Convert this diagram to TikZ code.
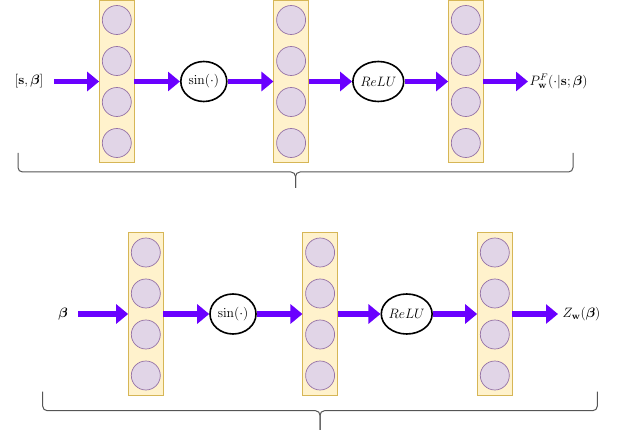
\RequirePackage{fix-cm}
\documentclass[tikz,border=0pt]{standalone}
\usepackage{amsmath,bm}
\usetikzlibrary{arrows.meta,shapes.geometric}
\definecolor{layfill}{HTML}{FFF2CC}
\definecolor{laydraw}{HTML}{D6B656}
\definecolor{neufill}{HTML}{E1D5E7}
\definecolor{neudraw}{HTML}{9673A6}
\definecolor{arrcol}{HTML}{6A00FF}
\definecolor{bracecol}{HTML}{555555}
\tikzset{
  layer/.style={draw=laydraw, fill=layfill, minimum width=34.5pt, minimum height=162.5pt, inner sep=0pt, line width=0.8pt},
  neuron/.style={circle, draw=neudraw, fill=neufill, minimum size=29pt, inner sep=0pt, line width=0.7pt},
  act/.style={ellipse, draw=black, line width=1.6pt, fill=white, minimum width=46pt, minimum height=40pt, inner sep=0pt, font=\fontsize{13.6}{16}\selectfont},
  flow/.style={draw=arrcol, line width=5pt, -{Triangle[length=12pt,width=19pt,fill=arrcol]}},
  lbl/.style={font=\fontsize{13.6}{16}\selectfont, inner sep=0.5pt},
  bracestyle/.style={draw=bracecol, line width=1pt, rounded corners=4.5pt}
}
\begin{document}
\begin{tikzpicture}[x=1pt,y=-1pt]
\useasboundingbox (0,0) rectangle (621,430);
% ---------- top network ----------
\node[layer] (A1) at (116.8,81.5) {};
\node[layer] (A2) at (291.1,81.5) {};
\node[layer] (A3) at (465.8,81.5) {};
\node[act] (As) at (203.8,81.5) {$\sin(\cdot)$};
\node[act] (Ar) at (378.3,81.5) {$ReLU$};
\node[lbl] (Ain) at (29,81.5) {$[\mathbf{s},\boldsymbol{\beta}]$};
\coordinate (Aend) at (528,81.5);
\node[lbl, anchor=west] (Aout) at ([xshift=1pt]Aend) {$P^{F}_{\mathbf{w}}(\cdot|\mathbf{s};\boldsymbol{\beta})$};
% ---------- bottom network ----------
\node[layer] (B1) at (145.8,314) {};
\node[layer] (B2) at (320.1,314) {};
\node[layer] (B3) at (494.8,314) {};
\node[act] (Bs) at (233,314) {$\sin(\cdot)$};
\node[act] (Br) at (406.7,314) {$ReLU$};
\node[lbl] (Bin) at (63,314) {$\boldsymbol{\beta}$};
\coordinate (Bend) at (558,314);
\node[lbl, anchor=west] (Bout) at ([xshift=4pt]Bend) {$Z_{\mathbf{w}}(\boldsymbol{\beta})$};
% ---------- neurons ----------
\foreach \L in {A1,A2,A3,B1,B2,B3}{
  \foreach \i/\dy in {1/61.5,2/20.5,3/-20.5,4/-61.5}{
    \node[neuron] (\L n\i) at ([yshift=\dy pt]\L.center) {};
  }
}
% ---------- arrows ----------
\draw[flow] ([xshift=10pt]Ain.east) -- (A1.west);
\draw[flow] (A1.east) -- (As.west);
\draw[flow] (As.east) -- (A2.west);
\draw[flow] (A2.east) -- (Ar.west);
\draw[flow] (Ar.east) -- (A3.west);
\draw[flow] (A3.east) -- (Aend);
\draw[flow] ([xshift=10pt]Bin.east) -- (B1.west);
\draw[flow] (B1.east) -- (Bs.west);
\draw[flow] (Bs.east) -- (B2.west);
\draw[flow] (B2.east) -- (Br.west);
\draw[flow] (Br.east) -- (B3.west);
\draw[flow] (B3.east) -- (Bend);
% ---------- braces ----------
\draw[bracestyle] (18,153) -- (18,172) -- (295.5,172) -- (295.5,188);
\draw[bracestyle] (295.5,188) -- (295.5,172) -- (573,172) -- (573,153);
\draw[bracestyle] (42.7,391.7) -- (42.7,410.7) -- (320,410.7) -- (320,431);
\draw[bracestyle] (320,431) -- (320,410.7) -- (597.3,410.7) -- (597.3,391.7);
\end{tikzpicture}
\end{document}
